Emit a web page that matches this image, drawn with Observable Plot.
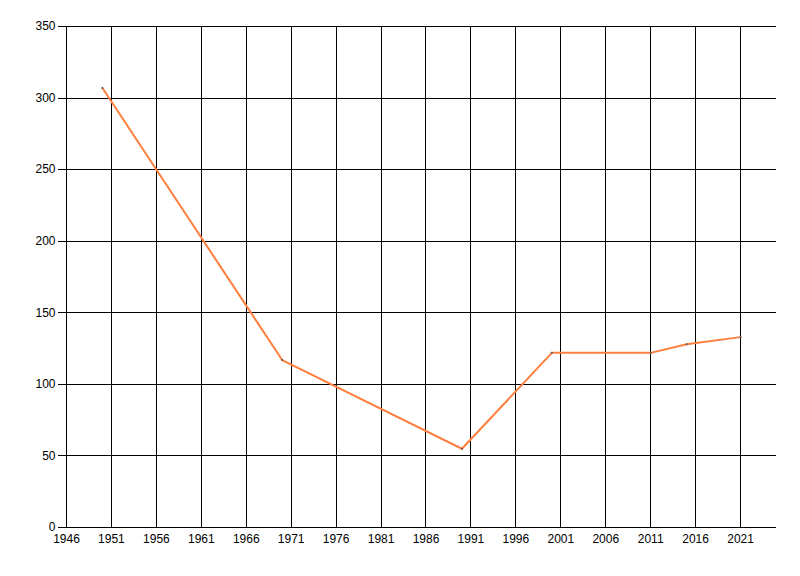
<!DOCTYPE html>
<html>
<head>
<meta charset="utf-8">
<script src="https://cdn.jsdelivr.net/npm/d3@7"></script>
<script src="https://cdn.jsdelivr.net/npm/@observablehq/plot@0.6"></script>
<style>
body { margin: 0; background: #fff; }
#chart svg { display: block; }
</style>
</head>
<body>
<div id="chart"></div>
<script>
const years = [1950, 1970, 1990, 2000, 2011, 2015, 2021];
const values = [307, 117, 55, 122, 122, 128, 133];
const xTicks = [1946, 1951, 1956, 1961, 1966, 1971, 1976, 1981, 1986, 1991, 1996, 2001, 2006, 2011, 2016, 2021];
const yTicks = [0, 50, 100, 150, 200, 250, 300, 350];

const data = years.map((y, i) => ({year: y, value: values[i]}));

const chart = Plot.plot({
  width: 800,
  height: 576,
  marginLeft: 66,
  marginRight: 24,
  marginTop: 26,
  marginBottom: 49,
  style: {fontFamily: "'Liberation Sans', Arial, sans-serif", fontSize: "12px", color: "#000", background: "#fff"},
  x: {domain: [1946, 2025], label: null},
  y: {domain: [0, 350], label: null},
  marks: [
    Plot.ruleX(xTicks.filter(d => d !== 1946), {stroke: "#000", strokeWidth: 1, shapeRendering: "crispEdges"}),
    Plot.ruleY(yTicks.filter(d => d !== 0), {stroke: "#000", strokeWidth: 1, shapeRendering: "crispEdges"}),
    Plot.ruleY([0], {stroke: "#000", strokeWidth: 1, shapeRendering: "crispEdges"}),
    Plot.ruleX([1946], {stroke: "#000", strokeWidth: 1, shapeRendering: "crispEdges"}),
    Plot.axisX({ticks: xTicks, tickFormat: d => String(d), tickSize: 0, tickPadding: 7, label: null}),
    Plot.axisY({ticks: yTicks, tickSize: 8, tickPadding: 3, label: null, shapeRendering: "crispEdges"}),
    Plot.line(data, {x: "year", y: "value", stroke: "#FF7F3F", strokeWidth: 2}),
    Plot.dot(data, {x: "year", y: "value", r: 1, fill: "#555", stroke: "none"})
  ]
});
document.getElementById("chart").appendChild(chart);
</script>
</body>
</html>
